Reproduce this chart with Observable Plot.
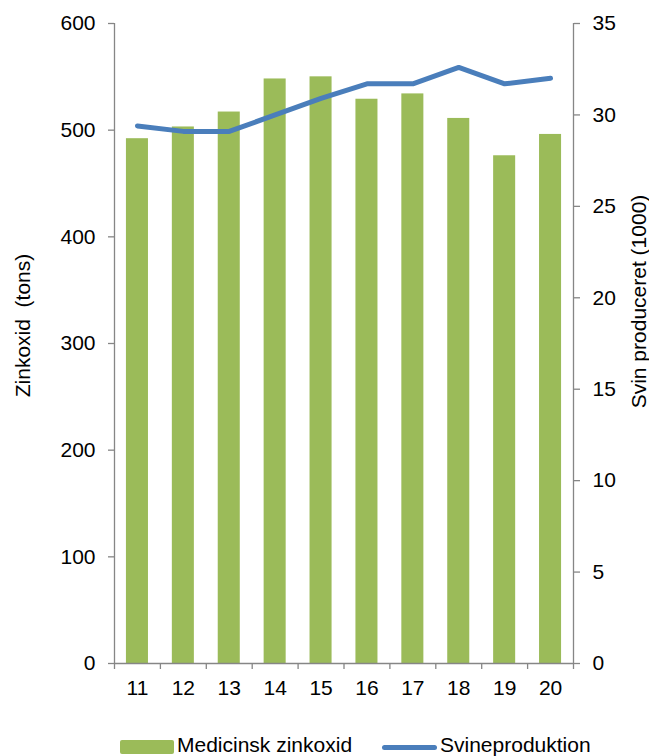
<!DOCTYPE html>
<html>
<head>
<meta charset="utf-8">
<script src="https://cdn.jsdelivr.net/npm/d3@7"></script>
<script src="https://cdn.jsdelivr.net/npm/@observablehq/plot@0.6"></script>
<style>
  html, body { margin: 0; padding: 0; background: #fff; overflow: hidden; }
  body { width: 649px; height: 756px; font-family: "Liberation Sans", Arial, sans-serif; }
  #legend { position: relative; height: 31px; width: 649px; font-size: 21px; color: #000; }
  #legend .sw { position: absolute; top: 15px; left: 120px; width: 54px; height: 14px; background: #9BBB59; border-radius: 2px; }
  #legend .ln { position: absolute; top: 20px; left: 382px; width: 55px; height: 5px; background: #4A7EBB; border-radius: 3px; }
  #legend .t { position: absolute; top: 9px; line-height: 21px; white-space: nowrap; }
</style>
</head>
<body>
<div id="chart"></div>
<div id="legend">
  <div class="sw"></div><span class="t" style="left:177px">Medicinsk zinkoxid</span>
  <div class="ln"></div><span class="t" style="left:440px">Svineproduktion</span>
</div>
<script>
// Data
const years = [11, 12, 13, 14, 15, 16, 17, 18, 19, 20];
const yearLabels = ["11", "12", "13", "14", "15", "16", "17", "18", "19", "20"];
const zincOxide = [492, 503, 517, 548, 550, 529, 534, 511, 476, 496];      // tons
const pigProduction = [29.4, 29.1, 29.1, 30.0, 30.9, 31.7, 31.7, 32.6, 31.7, 32.0]; // 1000
const leftTicks = [0, 100, 200, 300, 400, 500, 600];
const rightTicks = [0, 5, 10, 15, 20, 25, 30, 35];
const leftMax = 600, rightMax = 35;

const k = leftMax / rightMax;
const data = years.map((y, i) => ({year: y, label: yearLabels[i], zinc: zincOxide[i], pigs: pigProduction[i]}));
const xDomain = [years[0] - 0.5, years[years.length - 1] + 0.5];
const boundaries = years.map(y => y - 0.5).concat([years[years.length - 1] + 0.5]);
const gray = "#868686";

const chart = Plot.plot({
  width: 649,
  height: 725,
  marginLeft: 114,
  marginRight: 76,
  marginTop: 23,
  marginBottom: 62,
  style: {fontFamily: "'Liberation Sans', Arial, sans-serif", fontSize: "21px", color: "#000", background: "#fff", overflow: "visible"},
  x: {type: "linear", domain: xDomain},
  y: {domain: [0, leftMax]},
  marks: [
    Plot.rectY(data, {x1: d => d.year - 0.24, x2: d => d.year + 0.24, y1: 0, y2: "zinc", fill: "#9BBB59"}),
    Plot.ruleX(xDomain, {stroke: gray, strokeWidth: 1.3}),
    Plot.ruleY([0], {stroke: gray, strokeWidth: 1.3}),
    Plot.axisY({ticks: leftTicks, tickSize: 6, tickPadding: 13, stroke: gray, strokeWidth: 1.3, fill: "#000", fontSize: 21, label: null}),
    Plot.axisY({anchor: "right", ticks: rightTicks.map(v => v * k), tickFormat: d => String(Math.round(d / k)), tickSize: 6, tickPadding: 13, stroke: gray, strokeWidth: 1.3, fill: "#000", fontSize: 21, label: null}),
    Plot.axisX({ticks: boundaries, tickSize: 6, tickFormat: () => "", stroke: gray, strokeWidth: 1.3, label: null}),
    Plot.axisX({ticks: years, tickSize: 0, tickPadding: 17, tickFormat: d => yearLabels[years.indexOf(d)], fill: "#000", fontSize: 21, label: null}),
    Plot.line(data, {x: "year", y: d => d.pigs * k, stroke: "#4A7EBB", strokeWidth: 5, strokeLinecap: "round", strokeLinejoin: "round"}),
    Plot.text(["Zinkoxid\u00a0 (tons)"], {frameAnchor: "left", textAnchor: "middle", rotate: -90, dx: -91, dy: -18, fontSize: 21, fill: "#000"}),
    Plot.text(["Svin produceret (1000)"], {frameAnchor: "right", textAnchor: "middle", rotate: -90, dx: 66, dy: -42, fontSize: 21, fill: "#000"})
  ]
});
document.getElementById("chart").appendChild(chart);
</script>
</body>
</html>
